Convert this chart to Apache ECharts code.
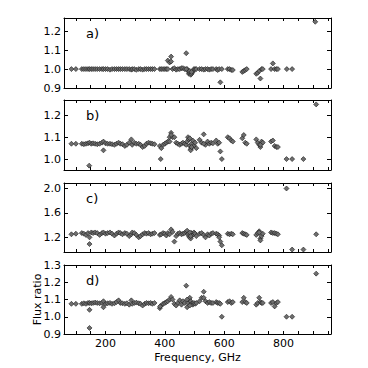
<!DOCTYPE html>
<html><head><meta charset="utf-8">
<script src="https://cdn.jsdelivr.net/npm/echarts@6/dist/echarts.min.js"></script>
<style>html,body{margin:0;padding:0;background:#fff}#c{width:368px;height:368px}</style>
</head><body><div id="c"></div>
<script>
// Shared frequencies (GHz)
const freq = [85,100,
120,127,134,141,146,152,158,165,172,180,188,193,200,207,215,222,230,237,244,250,257,265,272,280,287,290,297,304,312,318,325,332,338,345,352,358,365,
383,388,394,400,405,410,416,421,426,432,438,444,450,456,461,467,
472,475,478,481,484,487,490,494,498,502,506,
517,524,531,537,544,550,556,562,
573,578,583,587,592,
612,618,624,629,
661,666,671,676,
708,713,718,722,726,730,
758,764,770,776,781];

const ratioA = [1.0,1.0,
1.0,1.0,1.0,1.0,1.0,1.0,1.0,1.0,1.0,1.0,1.0,1.0,1.0,1.0,0.997,1.0,1.0,1.0,1.0,1.0,1.0,1.0,1.0,1.0,0.997,1.0,1.0,0.996,1.0,1.0,0.997,1.0,1.0,1.0,1.0,1.0,1.0,
1.0,1.0,1.0,1.0,1.0,1.045,1.035,1.066,1.0,1.005,0.997,1.0,1.0,1.005,1.005,1.0,
1.084,1.0,0.99,0.975,0.98,0.97,0.975,0.985,1.0,1.0,1.0,
1.0,1.0,0.997,1.0,1.0,0.997,1.0,1.0,
1.0,0.995,1.0,0.93,1.0,
1.0,1.0,0.995,0.995,
0.985,0.99,0.995,1.0,
0.975,0.98,0.99,0.95,1.0,1.0,
1.0,1.03,1.0,1.0,1.0];
const extraFreqA = [410,421,472,484,490,811,829,907];
const extraRatioA = [1.0,1.04,1.0,0.99,0.985,1.0,1.0,1.25];

const ratioB = [1.07,1.07,
1.07,1.068,1.07,1.072,1.075,1.07,1.072,1.07,1.068,1.07,1.075,1.08,1.072,1.07,1.07,1.068,1.065,1.07,1.075,1.07,1.068,1.06,1.065,1.075,1.09,1.065,1.075,1.07,1.07,1.065,1.055,1.06,1.07,1.075,1.072,1.07,1.068,
1.06,1.05,1.065,1.07,1.075,1.08,1.1,1.12,1.1,1.1,1.075,1.07,1.065,1.07,1.075,1.07,
1.065,1.08,1.1,1.09,1.06,1.045,1.07,1.085,1.06,1.075,1.05,
1.088,1.075,1.113,1.065,1.08,1.07,1.075,1.072,
1.085,1.07,1.075,1.035,1.0,
1.1,1.095,1.085,1.08,
1.095,1.11,1.075,1.07,
1.09,1.075,1.065,1.055,1.08,1.075,
1.08,1.085,1.06,1.055,1.055];
const extraFreqB = [145,193,386,421,416,484,487,490,531,722,810,829,867,910];
const extraRatioB = [0.97,1.04,1.0,1.11,1.08,1.095,1.04,1.055,1.07,1.065,1.0,1.0,1.0,1.25];

const ratioC = [1.25,1.26,
1.27,1.26,1.24,1.27,1.2,1.28,1.27,1.28,1.27,1.24,1.27,1.28,1.26,1.27,1.28,1.26,1.23,1.26,1.28,1.27,1.25,1.27,1.26,1.22,1.25,1.28,1.27,1.24,1.2,1.22,1.25,1.27,1.26,1.27,1.25,1.26,1.27,
1.24,1.25,1.27,1.26,1.23,1.27,1.25,1.33,1.29,1.13,1.22,1.26,1.27,1.25,1.26,1.27,
1.29,1.31,1.25,1.22,1.2,1.18,1.27,1.24,1.28,1.26,1.22,
1.26,1.27,1.24,1.2,1.25,1.23,1.26,1.27,
1.26,1.25,1.23,1.13,1.07,
1.26,1.25,1.26,1.25,
1.27,1.26,1.25,1.24,
1.24,1.27,1.3,1.18,1.22,1.26,
1.28,1.27,1.27,1.26,1.25];
const extraFreqC = [146,484,487,583,718,722,810,829,867,910];
const extraRatioC = [1.09,1.28,1.22,1.2,1.28,1.15,2.0,1.0,1.0,1.25];

const ratioD = [1.075,1.075,
1.075,1.078,1.075,1.08,1.08,1.078,1.08,1.082,1.08,1.078,1.08,1.09,1.075,1.078,1.08,1.075,1.078,1.085,1.095,1.08,1.078,1.075,1.078,1.07,1.095,1.075,1.08,1.082,1.078,1.075,1.065,1.075,1.08,1.078,1.08,1.075,1.08,
1.05,1.065,1.075,1.08,1.085,1.09,1.1,1.115,1.1,1.075,1.065,1.08,1.095,1.07,1.09,1.08,
1.18,1.055,1.08,1.1,1.11,1.09,1.075,1.07,1.08,1.075,1.08,
1.09,1.11,1.145,1.09,1.08,1.085,1.08,1.08,
1.085,1.08,1.08,1.075,1.0,
1.085,1.09,1.08,1.085,
1.085,1.11,1.085,1.08,
1.07,1.08,1.11,1.085,1.08,1.08,
1.08,1.085,1.06,1.08,1.085];
const extraFreqD = [146,146,193,384,475,484,531,810,829,910];
const extraRatioD = [1.04,0.935,1.055,1.06,1.1,1.065,1.11,1.0,1.0,1.25];

const panelLabels = ['a)','b)','c)','d)'];
const yMin = [0.9,0.95,0.96,0.9];
const yMax = [1.27,1.27,2.09,1.3];
const yStep = [0.1,0.1,0.4,0.1];
const xTickLabels = [200,400,600,800];

const panels = [
  [ratioA, extraFreqA, extraRatioA],
  [ratioB, extraFreqB, extraRatioB],
  [ratioC, extraFreqC, extraRatioC],
  [ratioD, extraFreqD, extraRatioD]
];

const FONT = 'DejaVu Sans';
const tops = [18,100,183,265];
const heights = [70,70,69,69];
const grid=[], xAxis=[], yAxis=[], series=[], title=[];
panels.forEach((p,i)=>{
  grid.push({left:64, right:37, top:tops[i], height:heights[i]});
  const isLast = i===3;
  const baseX = {type:'value', gridIndex:i, min:60, max:960, minInterval:50, maxInterval:50,
    splitLine:{show:false},
    axisLine:{lineStyle:{color:'#000',width:1}},
    axisTick:{inside:true,length:3,lineStyle:{color:'#000'}}};
  xAxis.push(Object.assign({}, baseX, {position:'bottom',
    axisLabel:{show:isLast, color:'#000', fontFamily:FONT, fontSize:11, margin:4,
      formatter:v=> xTickLabels.indexOf(Math.round(v))>=0 && Math.abs(v-Math.round(v))<1e-6 ? String(Math.round(v)) : ''},
    name: isLast ? 'Frequency, GHz' : '', nameLocation:'middle', nameGap:18,
    nameTextStyle:{color:'#000',fontFamily:FONT,fontSize:11}}));
  xAxis.push(Object.assign({}, baseX, {position:'top', axisLabel:{show:false}}));
  const st = yStep[i];
  const baseY = {type:'value', gridIndex:i, min:yMin[i], max:yMax[i], minInterval:st, maxInterval:st,
    splitLine:{show:false},
    axisLine:{show:true,lineStyle:{color:'#000',width:1}},
    axisTick:{show:true,inside:true,length:4,lineStyle:{color:'#000'}}};
  yAxis.push(Object.assign({}, baseY, {position:'left',
    axisLabel:{color:'#000',fontFamily:FONT,fontSize:11,margin:3,
      formatter:v=>{const k=v/st; return Math.abs(k-Math.round(k))<1e-6 ? v.toFixed(1) : '';}}}));
  yAxis.push(Object.assign({}, baseY, {position:'right', axisLabel:{show:false}}));
  const data = freq.map((f,j)=>[f,p[0][j]]).concat(p[1].map((f,j)=>[f,p[2][j]]));
  series.push({type:'scatter', xAxisIndex:2*i, yAxisIndex:2*i, data:data,
    symbol:'diamond', symbolSize:5,
    itemStyle:{color:'#6e6e6e',borderColor:'#1a1a1a',borderWidth:0.6,opacity:1},
    emphasis:{disabled:true}, animation:false});
  title.push({text:panelLabels[i], left:86, top:tops[i]+9,
    textStyle:{fontFamily:FONT,fontSize:13,fontWeight:'normal',color:'#000'}, padding:0});
});

const graphic = [{type:'text', x:37, y:tops[3]+heights[3]/2, rotation:Math.PI/2,
  style:{text:'Flux ratio', fontFamily:FONT, fontSize:11, fill:'#000', align:'center', verticalAlign:'middle'}}];

const chart = echarts.init(document.getElementById('c'), null, {renderer:'svg'});
chart.setOption({animation:false, title, grid, xAxis, yAxis, series, graphic});
</script></body></html>
